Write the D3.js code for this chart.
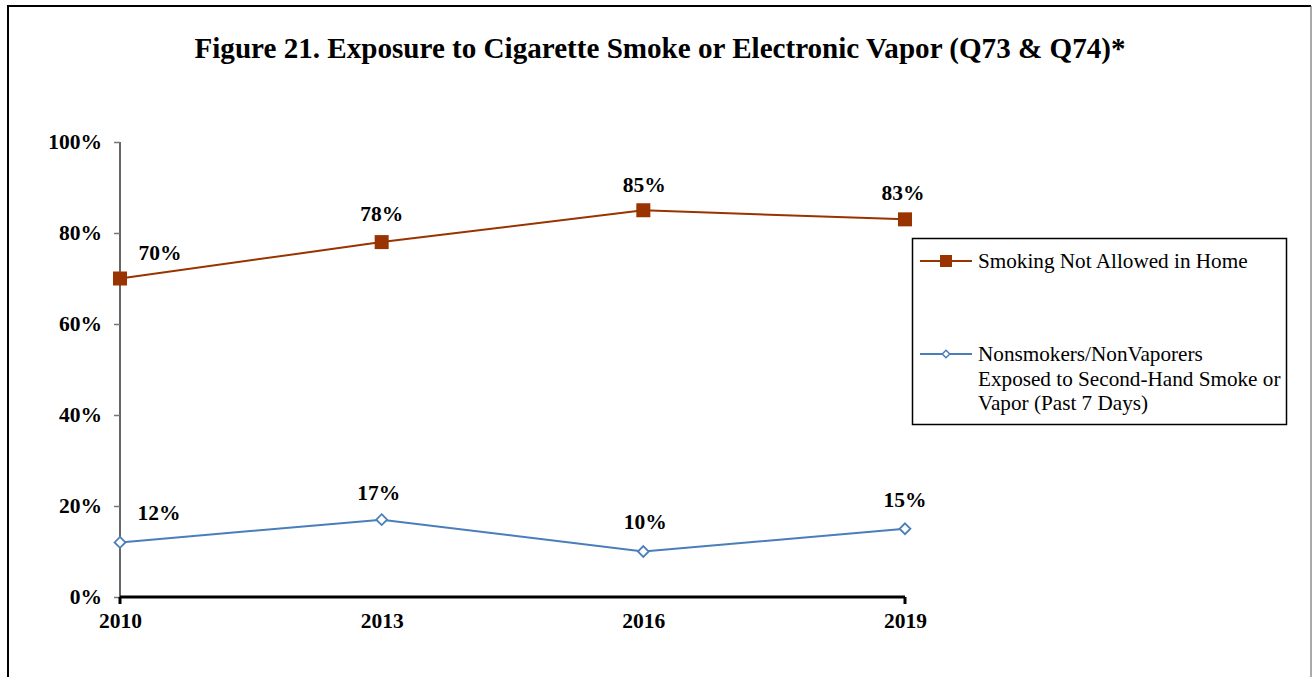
<!DOCTYPE html>
<html>
<head>
<meta charset="utf-8">
<script src="https://cdn.jsdelivr.net/npm/d3@7"></script>
<style>
  html, body { margin: 0; padding: 0; background: #fff; }
  svg { display: block; }
  text { font-family: "Liberation Serif", "Times New Roman", serif; }
</style>
</head>
<body>
<svg id="chart" width="1312" height="677"></svg>
<script>
// Survey years and percentages for each series
const years = ["2010", "2013", "2016", "2019"];
const smokingNotAllowed = [70, 78, 85, 83];
const exposedSecondHand = [12, 17, 10, 15];
const yTicks = [0, 20, 40, 60, 80, 100];
const seriesNames = ["Smoking Not Allowed in Home",
  ["Nonsmokers/NonVaporers", "Exposed to Second-Hand Smoke or", "Vapor (Past 7 Days)"]];
const titleText = "Figure 21. Exposure to Cigarette Smoke or Electronic Vapor (Q73 & Q74)*";

const svg = d3.select("#chart");
const W = 1312, H = 677;
const red = "#993300", blue = "#4a7ebb";
const labelSize = 21.5;
const legendSize = 21.2;

// outer frame
svg.append("line").attr("x1", 8).attr("x2", 8).attr("y1", 6).attr("y2", H).attr("stroke", "#000").attr("stroke-width", 2);
svg.append("line").attr("x1", 7).attr("x2", 1311).attr("y1", 6).attr("y2", 6).attr("stroke", "#000").attr("stroke-width", 2);
svg.append("line").attr("x1", 1311).attr("x2", 1311).attr("y1", 6).attr("y2", H).attr("stroke", "#555").attr("stroke-width", 1);

svg.append("text").attr("x", 660).attr("y", 58).attr("text-anchor", "middle")
  .attr("font-size", 29.1).attr("font-weight", "bold").text(titleText);

const x = d3.scalePoint().domain(years).range([120, 905]);
const y = d3.scaleLinear().domain([0, 100]).range([597, 142]);

// y axis
const yAxis = svg.append("g").attr("transform", "translate(120,0)")
  .call(d3.axisLeft(y).tickValues(yTicks).tickSize(6).tickPadding(12).tickFormat(d => d + "%"));
yAxis.select(".domain").attr("stroke", "#000").attr("stroke-width", 1.2).attr("d", "M0,142V597");
yAxis.selectAll(".tick line").attr("stroke", "#777").attr("stroke-width", 1.5);
yAxis.selectAll(".tick text").attr("font-size", labelSize).attr("font-weight", "bold")
  .attr("font-family", "Liberation Serif, serif").attr("fill", "#000");

// x axis
const xAxis = svg.append("g").attr("transform", "translate(0,597)")
  .call(d3.axisBottom(x).tickSize(0).tickPadding(16));
xAxis.select(".domain").attr("stroke", "#000").attr("stroke-width", 3).attr("d", "M120,0H905");
xAxis.selectAll(".tick text").attr("font-size", labelSize).attr("font-weight", "bold")
  .attr("font-family", "Liberation Serif, serif").attr("fill", "#000");
[years[0], years[years.length - 1]].forEach(yr => {
  svg.append("line").attr("x1", x(yr)).attr("x2", x(yr)).attr("y1", 597).attr("y2", 604)
    .attr("stroke", "#000").attr("stroke-width", 3);
});

const line = d3.line().x((d, i) => x(years[i])).y(d => y(d));

// smoking not allowed series
svg.append("path").datum(smokingNotAllowed).attr("d", line)
  .attr("fill", "none").attr("stroke", red).attr("stroke-width", 2);
svg.selectAll(".sq").data(smokingNotAllowed).join("rect")
  .attr("x", (d, i) => x(years[i]) - 7).attr("y", d => y(d) - 7)
  .attr("width", 14).attr("height", 14).attr("fill", red);

// exposure series
svg.append("path").datum(exposedSecondHand).attr("d", line)
  .attr("fill", "none").attr("stroke", blue).attr("stroke-width", 2);
const diamond = d3.symbol().type(d3.symbolDiamond2).size(75);
svg.selectAll(".dm").data(exposedSecondHand).join("path")
  .attr("d", diamond)
  .attr("transform", (d, i) => `translate(${x(years[i])},${y(d)})`)
  .attr("fill", "#fff").attr("stroke", blue).attr("stroke-width", 1.8);

// data labels
const redOffsets = [[40, -19], [0, -21], [1, -18], [-2, -19]];
const blueOffsets = [[39, -22], [-3, -20], [2, -23], [0, -22]];
svg.selectAll(".lr").data(smokingNotAllowed).join("text")
  .attr("x", (d, i) => x(years[i]) + redOffsets[i][0])
  .attr("y", (d, i) => y(d) + redOffsets[i][1])
  .attr("text-anchor", "middle").attr("font-size", labelSize).attr("font-weight", "bold")
  .text(d => d + "%");
svg.selectAll(".lb").data(exposedSecondHand).join("text")
  .attr("x", (d, i) => x(years[i]) + blueOffsets[i][0])
  .attr("y", (d, i) => y(d) + blueOffsets[i][1])
  .attr("text-anchor", "middle").attr("font-size", labelSize).attr("font-weight", "bold")
  .text(d => d + "%");

// legend
const lg = svg.append("g");
lg.append("rect").attr("x", 912.5).attr("y", 238.5).attr("width", 374).attr("height", 186)
  .attr("fill", "#fff").attr("stroke", "#000").attr("stroke-width", 1.5);
lg.append("line").attr("x1", 920).attr("x2", 972).attr("y1", 261).attr("y2", 261).attr("stroke", red).attr("stroke-width", 2);
lg.append("rect").attr("x", 940).attr("y", 255).attr("width", 12).attr("height", 12).attr("fill", red);
lg.append("text").attr("x", 978).attr("y", 268).attr("font-size", legendSize).text(seriesNames[0]);
lg.append("line").attr("x1", 920).attr("x2", 972).attr("y1", 354).attr("y2", 354).attr("stroke", blue).attr("stroke-width", 2);
lg.append("path").attr("d", d3.symbol().type(d3.symbolDiamond2).size(36))
  .attr("transform", "translate(946,354)")
  .attr("fill", "#fff").attr("stroke", blue).attr("stroke-width", 1.5);
seriesNames[1].forEach((t, i) => {
  lg.append("text").attr("x", 978).attr("y", 361 + i * 24.5).attr("font-size", legendSize).text(t);
});
</script>
</body>
</html>
